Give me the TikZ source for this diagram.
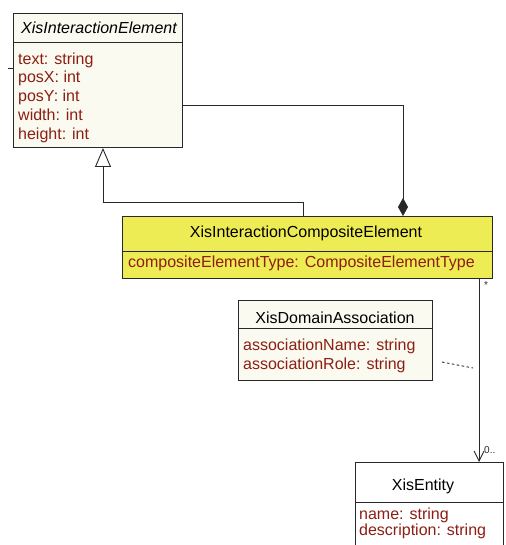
\documentclass[tikz,border=0pt]{standalone}
\usepackage{fontspec}
\setmainfont{Liberation Sans}
\usetikzlibrary{arrows.meta}
\definecolor{attr}{RGB}{140,30,20}
\definecolor{edge}{RGB}{40,40,40}
\definecolor{cream}{RGB}{250,250,240}
\definecolor{classyellow}{RGB}{238,236,84}
\tikzset{
  part/.style={draw=edge, line width=1pt, anchor=north west, inner sep=0pt},
  title/.style={font=\fontsize{16}{18}\selectfont, text=black, inner sep=0pt},
  attrs/.style={text=attr, align=left, anchor=north west, inner sep=0pt},
  link/.style={draw=edge, line width=0.9pt},
  mult/.style={font=\fontsize{10}{12}\selectfont, text=edge, inner sep=0pt}
}
\begin{document}
\begin{tikzpicture}[x=1pt,y=-1pt]
\useasboundingbox (0,0) rectangle (505,545);

% XisInteractionElement (abstract)
\node[part, fill=cream, minimum width=169, minimum height=29] (ieh) at (13,13) {};
\node[part, fill=cream, minimum width=169, minimum height=105] (ieb) at (13,42) {};
\node[title, font=\fontsize{16}{18}\selectfont\itshape] (iet) at (99,28) {XisInteractionElement};
\node[attrs, font=\fontsize{16}{18.7}\selectfont] (iea) at (18,52.5) {text: string\\posX: int\\posY: int\\width: int\\height: int};

% XisInteractionCompositeElement
\node[part, fill=classyellow, minimum width=370, minimum height=35] (ceh) at (122,216) {};
\node[part, fill=classyellow, minimum width=370, minimum height=27] (ceb) at (122,251) {};
\node[title] (cet) at (306,233) {XisInteractionCompositeElement};
\node[attrs, font=\fontsize{16}{18}\selectfont] (cea) at (128,255.5) {compositeElementType: CompositeElementType};

% XisDomainAssociation
\node[part, fill=cream, minimum width=194, minimum height=28] (dah) at (238,300) {};
\node[part, fill=cream, minimum width=194, minimum height=52] (dab) at (238,328) {};
\node[title] (dat) at (335,318) {XisDomainAssociation};
\node[attrs, font=\fontsize{16}{19}\selectfont] (daa) at (243,338.5) {associationName: string\\associationRole: string};

% XisEntity
\node[part, fill=white, minimum width=148, minimum height=40] (enh) at (355,462) {};
\node[part, fill=white, minimum width=148, minimum height=48] (enb) at (355,502) {};
\node[title] (ent) at (423,486) {XisEntity};
\node[attrs, font=\fontsize{16}{16}\selectfont] (ena) at (359,507.5) {name: string\\description: string};

% routing points
\coordinate (compx) at (403,105);
\coordinate (genx) at (103,202);
\coordinate (gensrc) at (303,202);
\coordinate (assx) at (479,0);
\coordinate (dashstart) at (442,362);
\coordinate (dashend) at (473,368);
\coordinate (stub) at (8,68);

% composition: XisInteractionCompositeElement is part of XisInteractionElement
\draw[link, {Diamond[length=18pt, width=10pt, fill=edge]}-] (ceh.north -| compx) -- (compx) -- (ieb.east |- compx);

% generalization
\draw[link, -{Triangle[open, length=19pt, width=16pt, fill=white]}] (ceh.north -| gensrc) -- (gensrc) -- (genx) -- (ieb.south -| genx);

% short link end on the left of XisInteractionElement
\draw[link] (stub) -- (ieb.west |- stub);

% navigable association to XisEntity
\draw[link, -{Straight Barb[length=10pt, width=10pt]}] (ceb.south -| assx) -- (enh.north -| assx);
\node[mult] (m1) at (486,285) {*};
\node[mult, anchor=west] (m2) at (484,450) {0..};

% association class link
\draw[edge, line width=0.9pt, dash pattern=on 2.5pt off 2.5pt] (dashstart) -- (dashend);
\end{tikzpicture}
\end{document}
